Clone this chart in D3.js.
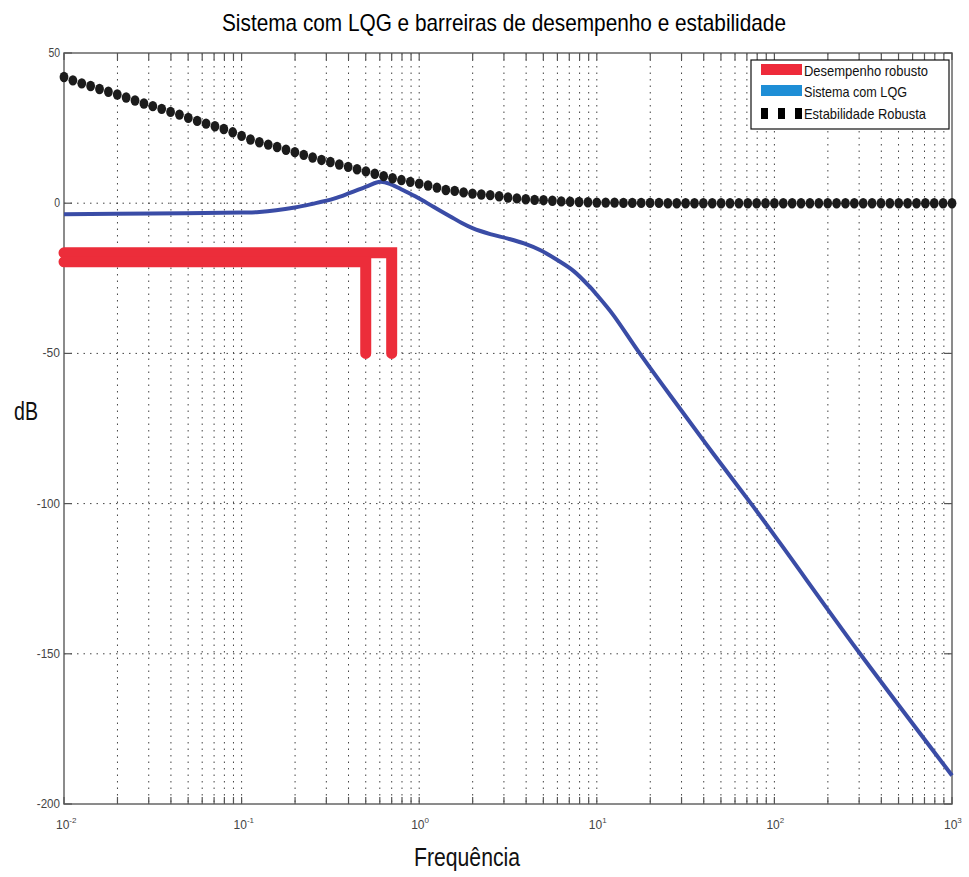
<!DOCTYPE html>
<html>
<head>
<meta charset="utf-8">
<script src="https://cdn.jsdelivr.net/npm/d3@7"></script>
<style>
  body { margin: 0; background: #fff; }
  text { font-family: "Liberation Sans", Arial, sans-serif; }
</style>
</head>
<body>
<div id="chart"></div>
<script>
// Estabilidade robusta (pontos pretos): expoente da frequência e dB
const estabExp = [-2.00,-1.95,-1.90,-1.85,-1.80,-1.75,-1.70,-1.65,-1.60,-1.55,
  -1.50,-1.45,-1.40,-1.35,-1.30,-1.25,-1.20,-1.15,-1.10,-1.05,
  -1.00,-0.95,-0.90,-0.85,-0.80,-0.75,-0.70,-0.65,-0.60,-0.55,
  -0.50,-0.45,-0.40,-0.35,-0.30,-0.25,-0.20,-0.15,-0.10,-0.05,
  0.00,0.05,0.10,0.15,0.20,0.25,0.30,0.35,0.40,0.45,
  0.50,0.55,0.60,0.65,0.70,0.75,0.80,0.85,0.90,0.95,
  1.00,1.05,1.10,1.15,1.20,1.25,1.30,1.35,1.40,1.45,
  1.50,1.55,1.60,1.65,1.70,1.75,1.80,1.85,1.90,1.95,
  2.00,2.05,2.10,2.15,2.20,2.25,2.30,2.35,2.40,2.45,
  2.50,2.55,2.60,2.65,2.70,2.75,2.80,2.85,2.90,2.95,3.00];
const estabDb = [42.0,40.9,39.9,39.0,38.0,37.1,36.2,35.2,34.2,33.2,
  32.3,31.4,30.4,29.5,28.4,27.4,26.5,25.6,24.7,23.6,
  22.4,21.2,20.3,19.5,18.7,17.8,17.0,16.1,15.2,14.4,
  13.7,12.9,12.1,11.3,10.6,9.8,9.0,8.3,7.7,7.1,
  6.5,5.9,5.2,4.4,4.1,3.6,3.2,2.9,2.7,2.3,
  1.9,1.6,1.3,1.1,1.0,0.8,0.6,0.5,0.4,0.3,
  0.2,0.2,0.2,0.1,0.1,0.1,0.1,0.1,0.0,0.0,
  0.0,0.0,0.0,0.0,0.0,0.0,0.0,0.0,0.0,0.0,
  0.0,0.0,0.0,0.0,0.0,0.0,0.0,0.0,0.0,0.0,
  0.0,0.0,0.0,0.0,0.0,0.0,0.0,0.0,0.0,0.0,0.0];

// Sistema com LQG (linha azul)
const lqgExp = [-2.0,-1.5,-1.0,-0.9,-0.7,-0.6,-0.48,-0.39,-0.29,-0.22,-0.16,-0.09,-0.01,
  0.08,0.175,0.24,0.30,0.40,0.50,0.59,0.68,0.78,0.87,0.96,1.0,1.09,1.23,1.37,1.47,1.655,1.875,2.03,2.47,3.0];
const lqgDb = [-3.7,-3.4,-3.1,-2.9,-1.4,-0.2,1.5,3.4,5.7,7.1,6.3,4.3,1.9,
  -1.2,-4.4,-6.6,-8.3,-10.3,-11.8,-13.4,-15.6,-19.0,-22.6,-27.8,-30.5,-37.0,-49.0,-60.5,-68.5,-83.3,-100.5,-113,-149,-190.5];

// Desempenho robusto (barreiras vermelhas)
const desemp1Freq = [0.01, 0.7, 0.7];
const desemp1Db = [-16.5, -16.5, -50];
const desemp2Freq = [0.01, 0.5, 0.5];
const desemp2Db = [-19.5, -19.5, -50];

const yTicks = [50, 0, -50, -100, -150, -200];
const xDecades = [-2, -1, 0, 1, 2, 3];
const legendLabels = ['Desempenho robusto', 'Sistema com LQG', 'Estabilidade Robusta'];

const W = 969, H = 877;
const pLeft = 64, pRight = 952, pTop = 53, pBottom = 804;

const svg = d3.select('#chart').append('svg')
  .attr('width', W).attr('height', H);

const x = d3.scaleLog().domain([0.01, 1000]).range([pLeft, pRight]);
const y = d3.scaleLinear().domain([-200, 50]).range([pBottom, pTop]);

// ticks menores / maiores
const xTickVals = [];
for (let e = -2; e < 3; e++) {
  for (let m = 1; m <= 9; m++) xTickVals.push(m * Math.pow(10, e));
}
xTickVals.push(1000);

// Grade
const grid = svg.append('g');
grid.selectAll('.vg').data(xTickVals.filter(v => v > 0.01 && v < 1000)).enter()
  .append('line')
  .attr('x1', d => x(d)).attr('x2', d => x(d))
  .attr('y1', pTop).attr('y2', pBottom)
  .attr('stroke', '#444').attr('stroke-width', 1)
  .attr('stroke-dasharray', '1.5,5');
grid.selectAll('.hg').data(yTicks.filter(v => v > -200 && v < 50)).enter()
  .append('line')
  .attr('x1', pLeft).attr('x2', pRight)
  .attr('y1', d => y(d)).attr('y2', d => y(d))
  .attr('stroke', '#444').attr('stroke-width', 1)
  .attr('stroke-dasharray', '1.5,5');

// Moldura e ticks
svg.append('rect')
  .attr('x', pLeft).attr('y', pTop)
  .attr('width', pRight - pLeft).attr('height', pBottom - pTop)
  .attr('fill', 'none').attr('stroke', '#666').attr('stroke-width', 1.5);

const ticks = svg.append('g').attr('stroke', '#555').attr('stroke-width', 1.2);
xTickVals.forEach(v => {
  ticks.append('line').attr('x1', x(v)).attr('x2', x(v)).attr('y1', pBottom).attr('y2', pBottom - 7);
  ticks.append('line').attr('x1', x(v)).attr('x2', x(v)).attr('y1', pTop).attr('y2', pTop + 7);
});
yTicks.forEach(v => {
  ticks.append('line').attr('x1', pLeft).attr('x2', pLeft + 8).attr('y1', y(v)).attr('y2', y(v));
  ticks.append('line').attr('x1', pRight).attr('x2', pRight - 8).attr('y1', y(v)).attr('y2', y(v));
});

// Rótulos dos ticks
svg.selectAll('.ylab').data(yTicks).enter().append('text')
  .attr('x', pLeft - 4).attr('y', d => y(d) + 4)
  .attr('text-anchor', 'end')
  .attr('font-size', 12).attr('fill', '#444')
  .attr('textLength', d => String(d).length * 5.8)
  .attr('lengthAdjust', 'spacingAndGlyphs')
  .text(d => d);

xDecades.forEach(e => {
  const t = svg.append('text')
    .attr('x', x(Math.pow(10, e)) - 8).attr('y', 829)
    .attr('font-size', 12).attr('fill', '#444');
  t.append('tspan').text('10');
  t.append('tspan').attr('dy', -6).attr('font-size', 8).text(e);
});

// Barreiras de desempenho
const line = d3.line().x(d => x(d[0])).y(d => y(d[1]));
[[desemp1Freq, desemp1Db], [desemp2Freq, desemp2Db]].forEach(([f, db]) => {
  svg.append('path')
    .datum(f.map((v, i) => [v, db[i]]))
    .attr('d', line)
    .attr('fill', 'none')
    .attr('stroke', '#ec2d3a')
    .attr('stroke-width', 11)
    .attr('stroke-linecap', 'round')
    .attr('stroke-linejoin', 'miter');
});

// Sistema com LQG
const lqgLine = d3.line()
  .x(d => x(Math.pow(10, d[0]))).y(d => y(d[1]))
  .curve(d3.curveCatmullRom.alpha(0.5));
svg.append('path')
  .datum(lqgExp.map((e, i) => [e, lqgDb[i]]))
  .attr('d', lqgLine)
  .attr('fill', 'none')
  .attr('stroke', '#3a4ca6')
  .attr('stroke-width', 4);

// Estabilidade robusta
svg.selectAll('.dot').data(estabExp.map((e, i) => [e, estabDb[i]])).enter()
  .append('ellipse')
  .attr('cx', d => x(Math.pow(10, d[0])))
  .attr('cy', d => y(d[1]))
  .attr('rx', 4.4).attr('ry', 5.2)
  .attr('fill', '#1b1b1b');

// Legenda
const lg = svg.append('g');
lg.append('rect').attr('x', 751).attr('y', 60).attr('width', 198).attr('height', 69)
  .attr('fill', '#fff').attr('stroke', '#111').attr('stroke-width', 1.2);
lg.append('rect').attr('x', 761).attr('y', 64).attr('width', 41).attr('height', 11).attr('fill', '#ee2a3a');
lg.append('rect').attr('x', 761).attr('y', 85).attr('width', 41).attr('height', 11).attr('fill', '#1e8ed6');
[761, 778, 795].forEach(px => {
  lg.append('rect').attr('x', px).attr('y', 108).attr('width', 7).attr('height', 11).attr('fill', '#000');
});
const legendY = [76, 97, 119];
const legendW = [124, 103, 122];
legendLabels.forEach((t, i) => {
  lg.append('text').attr('x', 804).attr('y', legendY[i])
    .attr('font-size', 15).attr('fill', '#111')
    .attr('textLength', legendW[i]).attr('lengthAdjust', 'spacingAndGlyphs')
    .text(t);
});

// Títulos
svg.append('text')
  .attr('x', 504).attr('y', 31)
  .attr('text-anchor', 'middle')
  .attr('font-size', 24).attr('fill', '#000')
  .attr('textLength', 564).attr('lengthAdjust', 'spacingAndGlyphs')
  .text('Sistema com LQG e barreiras de desempenho e estabilidade');

svg.append('text')
  .attr('x', 467).attr('y', 866)
  .attr('text-anchor', 'middle')
  .attr('font-size', 25).attr('fill', '#111')
  .attr('textLength', 106).attr('lengthAdjust', 'spacingAndGlyphs')
  .text('Frequência');

svg.append('text')
  .attr('x', 14).attr('y', 420)
  .attr('font-size', 25).attr('fill', '#111')
  .attr('textLength', 24).attr('lengthAdjust', 'spacingAndGlyphs')
  .text('dB');
</script>
</body>
</html>
